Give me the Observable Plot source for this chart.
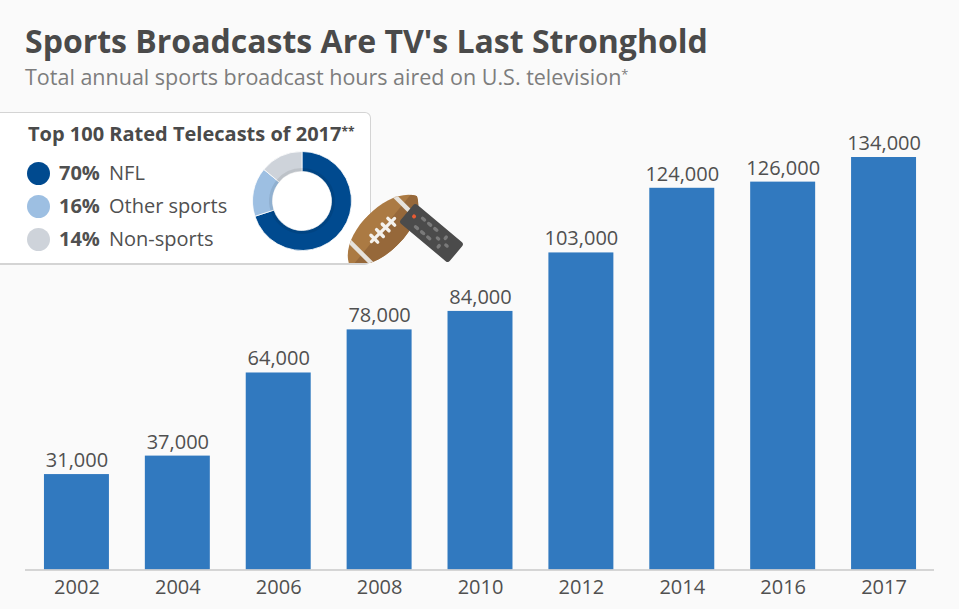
<!DOCTYPE html>
<html><head><meta charset="utf-8">
<script src="https://cdn.jsdelivr.net/npm/d3@7"></script>
<script src="https://cdn.jsdelivr.net/npm/@observablehq/plot@0.6"></script>
<style>
html,body{margin:0;padding:0;background:#fafafa;width:959px;height:609px;overflow:hidden;font-family:"Open Sans",sans-serif;color:#505050}
#page{position:relative;width:959px;height:609px}
h1{position:absolute;left:25px;top:19px;margin:0;font-size:32px;line-height:44px;font-weight:700;color:#4a4a4a;white-space:nowrap}
#sub{position:absolute;left:25px;top:62px;font-size:21.5px;line-height:30px;color:#7d7d7d;white-space:nowrap}
sup{font-size:60%;line-height:0;vertical-align:baseline;position:relative;top:-.45em}
#chart{position:absolute;left:0;top:80px}
#panel{position:absolute;left:-8px;top:112px;width:377px;height:150px;background:#fff;border:1px solid #d4d4d4;border-bottom-width:2px;border-radius:6px}
#ptitle{position:absolute;left:28px;top:121px;font-size:20px;line-height:26px;font-weight:700;color:#4a4a4a;white-space:nowrap}
.row{position:absolute;left:27px;height:24px;font-size:20px;line-height:21.5px;white-space:nowrap}
.row i{position:absolute;left:0;top:0;width:23px;height:23px;border-radius:50%}
.row b{position:absolute;left:32px;font-weight:700}
.row span{position:absolute;left:82px}
#donut{position:absolute;left:250px;top:149px}
#icon{position:absolute;left:0;top:0}
</style></head><body>
<div id="page">
<h1>Sports Broadcasts Are TV's Last Stronghold</h1>
<div id="sub">Total annual sports broadcast hours aired on U.S. television<sup>*</sup></div>
<div id="chart"></div>
<div id="panel"></div>
<div id="ptitle">Top 100 Rated Telecasts of 2017<sup>**</sup></div>
<div id="legend"></div>
<div id="donut"></div>
<svg id="icon" width="959" height="609">
  <defs>
    <clipPath id="cut"><rect x="300" y="150" width="200" height="113"/></clipPath>
    <clipPath id="ball"><path d="M-48,0C-34,-28 34,-28 48,0C34,28 -34,28 -48,0Z"/></clipPath>
  </defs>
  <g clip-path="url(#cut)">
    <g transform="translate(383,230) rotate(-45)">
      <g clip-path="url(#ball)">
        <rect x="-50" y="-30" width="100" height="60" fill="#ab7a43"/>
        <path d="M-50,4L50,-6L50,30L-50,30Z" fill="#96683a"/>
        <rect x="-34" y="-30" width="4.5" height="60" fill="#e6e2dc"/>
        <rect x="30" y="-30" width="4.5" height="60" fill="#e6e2dc"/>
      </g>
      <rect x="-18" y="-1.6" width="36" height="3.2" rx="1.6" fill="#f4f1ec"/>
      <g fill="#f4f1ec"><rect x="-14" y="-6.5" width="3.4" height="13" rx="1.7"/><rect x="-6" y="-6.5" width="3.4" height="13" rx="1.7"/><rect x="2" y="-6.5" width="3.4" height="13" rx="1.7"/><rect x="10" y="-6.5" width="3.4" height="13" rx="1.7"/></g>
    </g>
    <g transform="translate(431.5,233) rotate(40)">
      <rect x="-32" y="-12.5" width="64" height="25" rx="3" fill="#4b4b4b"/>
      <circle cx="-24" cy="-1.5" r="2" fill="#ea5b33"/>
      <g fill="#7a7a7a">
        <rect x="-18" y="-7.2" width="6" height="3.4" rx="1.7"/><rect x="-18" y="3.8" width="6" height="3.4" rx="1.7"/>
        <rect x="-10" y="-7.2" width="6" height="3.4" rx="1.7"/><rect x="-10" y="3.8" width="6" height="3.4" rx="1.7"/>
        <rect x="-2" y="-7.2" width="6" height="3.4" rx="1.7"/><rect x="-2" y="3.8" width="6" height="3.4" rx="1.7"/>
        <rect x="6" y="-1.7" width="5" height="3.4" rx="1.7"/><rect x="17" y="-1.7" width="5" height="3.4" rx="1.7"/>
        <rect x="12.3" y="-8" width="3.4" height="5" rx="1.7"/><rect x="12.3" y="3" width="3.4" height="5" rx="1.7"/>
      </g>
    </g>
  </g>
</svg>
</div>
<script>
const years = ["2002","2004","2006","2008","2010","2012","2014","2016","2017"];
const hours = [31000,37000,64000,78000,84000,103000,124000,126000,134000];
const shareLabels = ["NFL","Other sports","Non-sports"];
const shares = [70,16,14];
const shareColors = ["#004a8f","#9dbfe2","#ced3da"];
const rowTops = [162,195,228];

const bars = years.map((year,i)=>({year,value:hours[i]}));
const fmt = d3.format(",");

document.getElementById("chart").append(Plot.plot({
  width:959, height:529, marginTop:0, marginLeft:25, marginRight:25, marginBottom:39.5,
  style:{background:"transparent",fontFamily:"'Open Sans',sans-serif",overflow:"visible"},
  x:{domain:years,range:[26,934],paddingInner:0.356,paddingOuter:0.178,align:0.5,round:false,label:null},
  y:{domain:[0,134000],range:[489.5,77],axis:null},
  marks:[
    Plot.barY(bars,{x:"year",y:"value",fill:"#3179bf"}),
    Plot.ruleY([0],{stroke:"#c9c9c9",strokeWidth:1.5}),
    Plot.axisX({anchor:"bottom",tickSize:0,tickPadding:10,fontSize:20,color:"#505050",label:null}),
    Plot.text(bars,{x:"year",y:"value",text:d=>fmt(d.value),dy:-14,fontSize:20,fill:"#505050"})
  ]
}));

const legend = document.getElementById("legend");
shareLabels.forEach((label,i)=>{
  const r=document.createElement("div");
  r.className="row"; r.style.top=rowTops[i]+"px";
  r.innerHTML=`<i style="background:${shareColors[i]}"></i><b>${shares[i]}%</b><span>${label}</span>`;
  legend.append(r);
});

const slices = shareLabels.map((label,i)=>({label,share:shares[i],color:shareColors[i]}));
const pie = d3.pie().sort(null).value(d=>d.share)(slices);
const arc = d3.arc().innerRadius(29.5).outerRadius(49.5);
const rim = d3.arc().innerRadius(29.5).outerRadius(33);
document.getElementById("donut").append(Plot.plot({
  width:104, height:104, margin:0, x:{axis:null}, y:{axis:null},
  style:{background:"transparent",overflow:"visible"},
  marks:[
    (index,scales,values,dim,ctx)=>{
      const g=d3.select(ctx.document.createElementNS("http://www.w3.org/2000/svg","g")).attr("transform","translate(52,52)");
      g.selectAll("path.s").data(pie).join("path").attr("class","s").attr("d",arc).attr("fill",d=>d.data.color).attr("stroke","#fff").attr("stroke-width",0.8);
      g.selectAll("path.r").data(pie).join("path").attr("class","r").attr("d",rim).attr("fill","#000").attr("fill-opacity",0.08);
      return g.node();
    }
  ]
}));
</script>
</body></html>
